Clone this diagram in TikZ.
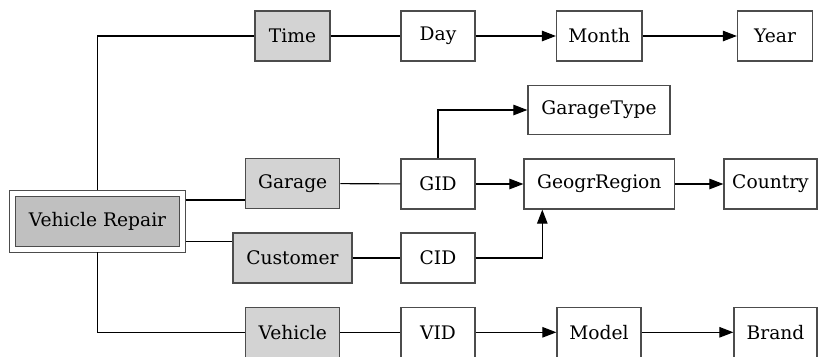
\documentclass[tikz,border=0pt]{standalone}
\usepackage{fontspec}
\setmainfont{DejaVu Serif}
\usepackage{xcolor}
\usetikzlibrary{arrows.meta}

\definecolor{dimfill}{HTML}{D3D3D3}
\definecolor{factfill}{HTML}{C0C0C0}

\begin{document}
\begin{tikzpicture}[x=1pt,y=-1pt,
    attr/.style={draw=black!70,line width=1.3pt,fill=white,minimum height=50pt,
        inner sep=0pt,font=\fontsize{18.67}{22}\selectfont},
    dim/.style={attr,fill=dimfill},
    fact/.style={attr,fill=factfill,double=white,double distance=5pt,
        minimum width=170pt,minimum height=56pt,outer sep=3pt},
    link/.style={line width=1.1pt,black},
    >={Triangle[length=14pt,width=10.5pt]}]
    % frame
    \useasboundingbox (0,0) rectangle (818,356);
    \clip (0,0) rectangle (818,356);
    % fact
    \node[fact] (vr) at (97.5,221.3) {Vehicle Repair};
    % dimensions
    \node[dim,minimum width=75pt] (time) at (292.5,36) {Time};
    \node[dim,minimum width=94pt] (garage) at (292.7,183.5) {Garage};
    \node[dim,minimum width=119pt] (customer) at (292.5,258) {Customer};
    \node[dim,minimum width=94pt] (vehicle) at (292.7,332.3) {Vehicle};
    % attributes
    \node[attr,minimum width=74pt] (day) at (438,36) {Day};
    \node[attr,minimum width=85.5pt] (month) at (599.3,36) {Month};
    \node[attr,minimum width=75pt] (year) at (775,36) {Year};
    \node[attr,minimum width=142pt,minimum height=49pt] (gtype) at (599,110) {GarageType};
    \node[attr,minimum width=74pt] (gid) at (438,184) {GID};
    \node[attr,minimum width=150.5pt] (region) at (599.3,184) {GeogrRegion};
    \node[attr,minimum width=93pt] (country) at (770.5,184) {Country};
    \node[attr,minimum width=74pt] (cid) at (438,258) {CID};
    \node[attr,minimum width=74pt] (vid) at (438,332.3) {VID};
    \node[attr,minimum width=84pt] (model) at (599,332.3) {Model};
    \node[attr,minimum width=83pt] (brand) at (775.5,332.3) {Brand};
    % fact to dimensions
    \coordinate (gy) at (0,200);
    \coordinate (cy) at (0,241.7);
    \draw[link] (vr.north) |- (time.west);
    \draw[link] (vr.east |- gy) -- (garage.west |- gy);
    \draw[link] (vr.east |- cy) -- (customer.west |- cy);
    \draw[link] (vr.south) |- (vehicle.west);
    % dimensions to keys
    \foreach \a/\b in {time/day, garage/gid, customer/cid, vehicle/vid}
        \draw[link] (\a) -- (\b);
    % hierarchies
    \foreach \a/\b in {day/month, month/year, gid/region, region/country, vid/model, model/brand}
        \draw[link,->] (\a) -- (\b);
    \draw[link,->] (gid.north) |- (gtype.west);
    \coordinate (cg) at (542.3,0);
    \draw[link,->] (cid.east) -| (cg |- region.south);
\end{tikzpicture}
\end{document}
